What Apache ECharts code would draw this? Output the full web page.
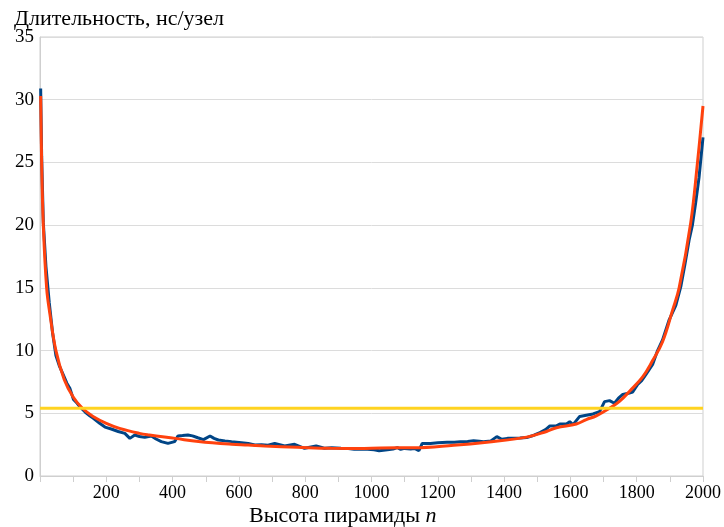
<!DOCTYPE html>
<html>
<head>
<meta charset="utf-8">
<script src="https://cdn.jsdelivr.net/npm/echarts@6/dist/echarts.min.js"></script>
<style>html,body{margin:0;padding:0;background:#fff}#c{width:724px;height:527px}</style>
</head>
<body>
<div id="c"></div>
<script>
// Measured series (pyramid height n -> duration ns/node)
var measuredN = [2,5,10,18,28,38,48,58,68,81,90,101,112,121,136,150,161,180,196,215,236,256,271,286,300,316,336,350,366,386,406,416,430,446,460,476,493,513,525,538,558,578,608,628,648,668,688,708,738,768,798,833,858,880,908,930,948,968,988,1008,1023,1048,1065,1078,1088,1100,1118,1130,1143,1153,1178,1200,1228,1250,1268,1290,1308,1325,1338,1360,1378,1393,1410,1428,1448,1468,1490,1508,1525,1538,1558,1568,1588,1598,1608,1628,1648,1668,1688,1703,1718,1733,1745,1758,1775,1788,1803,1815,1828,1848,1863,1878,1898,1918,1933,1945,1958,1968,1978,1988,2000];
var measuredV = [30.9,25.5,20.2,16.7,13.8,11.4,9.6,8.8,8.2,7.4,7.0,6.1,5.8,5.5,5.1,4.8,4.6,4.2,3.9,3.75,3.55,3.4,3.0,3.27,3.15,3.08,3.19,2.95,2.74,2.6,2.74,3.19,3.22,3.27,3.2,3.05,2.9,3.19,3.0,2.87,2.8,2.74,2.66,2.6,2.47,2.5,2.45,2.6,2.39,2.53,2.21,2.39,2.21,2.25,2.21,2.2,2.13,2.15,2.13,2.1,2.02,2.1,2.15,2.26,2.13,2.2,2.15,2.2,2.02,2.6,2.6,2.65,2.69,2.7,2.74,2.75,2.82,2.78,2.74,2.8,3.14,2.93,3.0,3.0,3.02,3.06,3.25,3.46,3.7,3.99,4.0,4.15,4.15,4.33,4.1,4.75,4.85,4.95,5.13,5.93,6.01,5.8,6.2,6.5,6.6,6.7,7.3,7.6,8.1,8.9,10.0,10.85,12.45,13.6,15.1,16.8,18.8,20.0,21.8,23.8,27.0];
// Fitted curve
var fitN = [2,5,10,20,30,48,73,100,128,160,200,240,300,330,408,478,578,628,678,778,878,978,1078,1128,1248,1348,1468,1528,1558,1618,1648,1678,1718,1748,1780,1818,1848,1878,1908,1928,1963,1983,2000];
var fitV = [30.3,25.0,20.0,15.0,12.9,10.0,7.7,6.3,5.4,4.75,4.2,3.8,3.4,3.27,3.0,2.75,2.53,2.47,2.39,2.29,2.21,2.2,2.25,2.25,2.45,2.7,3.1,3.55,3.85,4.15,4.5,4.8,5.4,5.95,6.8,7.9,9.2,10.7,13.2,15.0,20.2,24.9,29.5];
// Constant level
var levelN = [0, 2000];
var levelV = [5.4, 5.4];
// Axis ticks
var yTicks = [0,5,10,15,20,25,30,35];
var xLabelStep = 200;

function pairs(a, b){ var r=[]; for(var i=0;i<a.length;i++) r.push([a[i], b[i]]); return r; }

var chart = echarts.init(document.getElementById('c'), null, {renderer:'canvas'});
var serif = 'Liberation Serif';
chart.setOption({
  animation:false,
  backgroundColor:'#ffffff',
  title:[
    {text:'Длительность, нс/узел', left:9, top:3, textStyle:{fontFamily:serif, fontSize:22, fontWeight:'normal', color:'#000'}},
    {text:'{a|Высота пирамиды }{b|n}', left:244, top:500, textStyle:{fontWeight:'normal', rich:{
      a:{fontFamily:serif, fontSize:22, fontWeight:'normal', color:'#000'},
      b:{fontFamily:serif, fontSize:22, fontWeight:'normal', fontStyle:'italic', color:'#000'}}}}
  ],
  grid:{left:40, right:17, top:37, bottom:51, show:true, borderColor:'#cfcfcf', borderWidth:1},
  xAxis:{type:'value', min:0, max:2000, interval:100,
    axisLine:{show:true, lineStyle:{color:'#cfcfcf'}},
    axisTick:{show:true, length:6, lineStyle:{color:'#cfcfcf'}},
    splitLine:{show:false},
    axisLabel:{margin:8, fontFamily:serif, fontSize:18, color:'#000',
      formatter:function(v){ return (v>0 && v%xLabelStep===0) ? String(v) : ''; }}
  },
  yAxis:{type:'value', min:yTicks[0], max:yTicks[yTicks.length-1], interval:5,
    axisLine:{show:true, lineStyle:{color:'#cfcfcf'}},
    axisTick:{show:false},
    splitLine:{show:true, lineStyle:{color:'#dcdcdc', width:1}},
    axisLabel:{margin:6, fontFamily:serif, fontSize:19, color:'#000'}
  },
  series:[
    {type:'line', data:pairs(measuredN, measuredV), showSymbol:false, smooth:false,
      lineStyle:{color:'#004586', width:3}, itemStyle:{color:'#004586'}},
    {type:'line', data:pairs(fitN, fitV), showSymbol:false, smooth:0.4,
      lineStyle:{color:'#ff420e', width:3}, itemStyle:{color:'#ff420e'}},
    {type:'line', data:pairs(levelN, levelV), showSymbol:false,
      lineStyle:{color:'#ffd320', width:3}, itemStyle:{color:'#ffd320'}}
  ]
});
</script>
</body>
</html>
